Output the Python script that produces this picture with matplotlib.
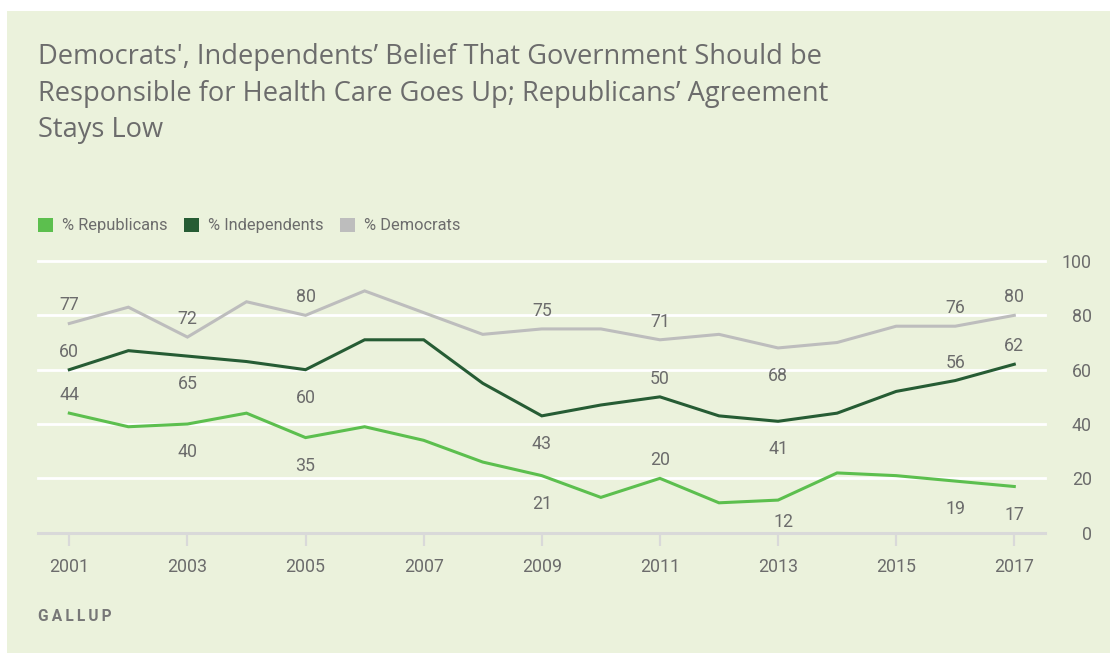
import matplotlib
matplotlib.use("Agg")
import matplotlib.pyplot as plt
from matplotlib.patches import Patch, Rectangle

plt.rcParams['font.family'] = ['Roboto', 'DejaVu Sans']

# ---- data -------------------------------------------------------------
years = list(range(2001, 2018))
republicans = [44, 39, 40, 44, 35, 39, 34, 26, 21, 13, 20, 11, 12, 22, 21, 19, 17]
independents = [60, 67, 65, 63, 60, 71, 71, 55, 43, 47, 50, 43, 41, 44, 52, 56, 62]
democrats = [77, 83, 72, 85, 80, 89, 81, 73, 75, 75, 71, 73, 68, 70, 76, 76, 80]

series_names = ["% Republicans", "% Independents", "% Democrats"]
labeled_years = [2001, 2003, 2005, 2009, 2011, 2013, 2016, 2017]
# label placement per series and year: +1 above the line, -1 below
rep_side = {2001: 1, 2003: -1, 2005: -1, 2009: -1, 2011: 1, 2013: -1, 2016: -1, 2017: -1}
ind_side = {2001: 1, 2003: -1, 2005: -1, 2009: -1, 2011: 1, 2013: -1, 2016: 1, 2017: 1}
dem_side = {2001: 1, 2003: 1, 2005: 1, 2009: 1, 2011: 1, 2013: -1, 2016: 1, 2017: 1}

x_ticks = list(range(2001, 2018, 2))
y_ticks = [0, 20, 40, 60, 80, 100]

title = ("Democrats', Independents\u2019 Belief That Government Should be\n"
         "Responsible for Health Care Goes Up; Republicans\u2019 Agreement\n"
         "Stays Low")
source = "GALLUP"

# ---- style ------------------------------------------------------------
BG = "#ebf2dc"
REP = "#5cbf4e"
IND = "#265c34"
DEM = "#bdbdbd"
TXT = "#6c6c6c"
AXC = "#d9d9d9"

W, H, DPI = 1110, 653, 100
fig = plt.figure(figsize=(W / DPI, H / DPI), dpi=DPI, facecolor="white")
fig.patches.append(Rectangle((7 / W, 0), 1 - 7 / W, 1 - 11 / H,
                             transform=fig.transFigure, facecolor=BG,
                             edgecolor="none", zorder=-10))

ax = fig.add_axes([38 / W, 1 - 532.7 / H, (1045 - 38) / W, (532.7 - 261) / H])
ax.set_facecolor("none")
ax.set_xlim(2000.47, 2017.52)
ax.set_ylim(0, 100)

for s in ["top", "left", "right"]:
    ax.spines[s].set_visible(False)
ax.spines["bottom"].set_color(AXC)
ax.spines["bottom"].set_linewidth(2.2)
ax.spines["bottom"].set_zorder(1)

for v in y_ticks[1:]:
    ax.axhline(v, color="white", lw=2.0, zorder=0, clip_on=False)

ax.set_xticks(x_ticks)
ax.set_xticklabels([str(t) for t in x_ticks])
ax.tick_params(axis="x", length=9.4, width=1.6, color=AXC, labelsize=12.8,
               labelcolor=TXT, pad=9)

ax.yaxis.tick_right()
ax.set_yticks(y_ticks)
ax.set_yticklabels([str(t) for t in y_ticks])
ax.tick_params(axis="y", length=0, labelsize=12.8, labelcolor=TXT, pad=33.8)
for lab in ax.get_yticklabels():
    lab.set_horizontalalignment("right")

for vals, color, side in [(democrats, DEM, dem_side),
                          (independents, IND, ind_side),
                          (republicans, REP, rep_side)]:
    ax.plot(years, vals, color=color, lw=2.2, solid_joinstyle="miter",
            zorder=3, clip_on=False)
    for yr in labeled_years:
        v = vals[years.index(yr)]
        s = side[yr]
        dy = 14.4 if s > 0 else -18.8
        dx = 0
        if vals is republicans and yr == 2013:
            dx, dy = 4, -14.2
        ax.annotate(str(v), (yr, v), xytext=(dx, dy), textcoords="offset points",
                    ha="center", va="center_baseline", fontsize=12.8,
                    color=TXT, zorder=4)

# ---- title, legend, source -------------------------------------------
# anchored on the baseline of the last title line
fig.text(38 / W, 1 - 136.7 / H, title, ha="left", va="baseline", fontsize=19.6,
         color=TXT, linespacing=1.39,
         family=["Open Sans", "DejaVu Sans"])

handles = [Patch(facecolor=c, edgecolor="none") for c in (REP, IND, DEM)]
fig.legend(handles, series_names, loc="center left",
           bbox_to_anchor=(38 / W, 1 - 225.5 / H), ncol=3, frameon=False,
           fontsize=11.8, labelcolor=TXT, handlelength=0.92, handleheight=0.92,
           handletextpad=0.55, columnspacing=1.0, borderpad=0, borderaxespad=0)

fig.text(38 / W, 1 - 620.7 / H, "\u2009".join(source), ha="left",
         va="baseline", fontsize=11.2, color="#777777", fontweight="bold",
         family=["Roboto", "DejaVu Sans"])

fig.savefig("out.png", dpi=DPI, facecolor="white")
